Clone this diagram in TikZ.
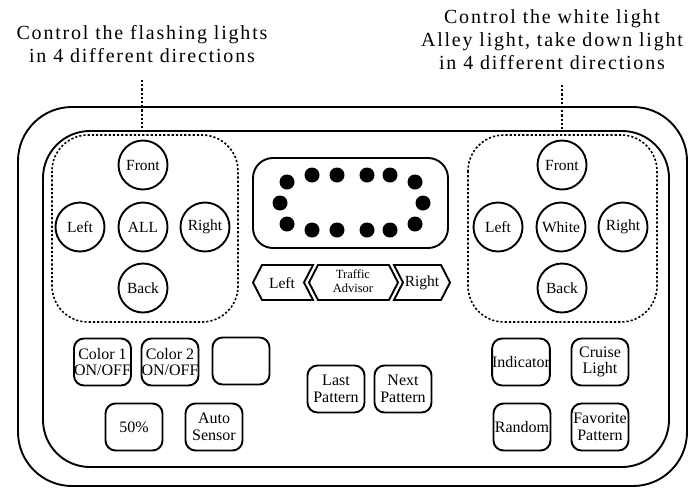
\documentclass[tikz,border=0pt]{standalone}
\usepackage{fontspec}
\setmainfont{Liberation Serif}
\newfontfamily\notefont[LetterSpace=9]{Liberation Serif}
\tikzset{
  frame/.style={line width=1.9pt},
  zone/.style={line width=1.6pt,dash pattern=on 2.2pt off 2pt,rounded corners=36pt},
  lead/.style={line width=1.6pt,dash pattern=on 2.2pt off 2pt},
  knob/.style={circle,draw,line width=1.9pt,minimum size=49pt,inner sep=0pt,font=\fontsize{15.5}{16}\selectfont},
  key/.style={draw,line width=1.9pt,rounded corners=10pt,minimum width=57pt,minimum height=47pt,inner sep=0pt,align=center,font=\fontsize{16}{16.5}\selectfont},
  chev/.style={line width=1.9pt,line join=miter},
  lamp/.style={fill=black},
  note/.style={align=center,inner sep=0pt,font=\notefont\fontsize{20}{23}\selectfont}
}
\begin{document}
\begin{tikzpicture}[x=1pt,y=-1pt]
\useasboundingbox (0,0) rectangle (693,491);
% captions
\node[note] (flashnote) at (142,44) {Control the flashing lights\\in 4 different directions};
\node[note] (whitenote) at (552,40) {Control the white light\\Alley light, take down light\\in 4 different directions};
\coordinate (flashtop) at (142,80);
\coordinate (flashtip) at (142,129);
\coordinate (whitetop) at (562,85);
\coordinate (whitetip) at (562,129);
\draw[lead] (flashtop) -- (flashtip);
\draw[lead] (whitetop) -- (whitetip);
% housing
\draw[frame,rounded corners=54pt] (18,107) rectangle (687,486);
\draw[frame,rounded corners=47pt] (43,131) rectangle (669,467);
% direction groups
\draw[zone] (52,135) rectangle (238,322);
\draw[zone] (468,135) rectangle (657,322);
\node[knob] (ffront) at (143,165) {Front};
\node[knob] (fleft) at (80,227) {Left};
\node[knob] (fall) at (143,227) {ALL};
\node[knob] (fright) at (205,227) {Right};
\node[knob] (fback) at (143,288) {Back};
\node[knob] (wfront) at (562,165) {Front};
\node[knob] (wleft) at (498,227) {Left};
\node[knob] (wwhite) at (561,227) {White};
\node[knob] (wright) at (623,227) {Right};
\node[knob] (wback) at (562,288) {Back};
% light bar
\draw[frame,rounded corners=20pt] (253,158) rectangle (448,248);
\foreach \p in {(287,182),(312,175),(337,175),(367,175),(390,175),(415,182),
  (280,203),(423,203),(287,224),(312,230),(337,230),(367,230),(390,230),(415,224)}
  \fill[lamp] \p circle (7.5);
% traffic advisor keys
\draw[chev] (253,282.5) -- (262,265) -- (313,265) -- (304,282.5) -- (313,300) -- (262,300) -- cycle;
\draw[chev] (309,282.5) -- (318,265) -- (389,265) -- (398,282.5) -- (389,300) -- (318,300) -- cycle;
\draw[chev] (394,265) -- (441,265) -- (450,282.5) -- (441,300) -- (394,300) -- (403,282.5) -- cycle;
\node[font=\fontsize{15.5}{16}\selectfont] (tleft) at (282,283) {Left};
\node[align=center,font=\fontsize{12.5}{13.5}\selectfont] (tboth) at (353,281) {Traffic\\Advisor};
\node[font=\fontsize{15.5}{16}\selectfont] (tright) at (422,283) {Right};
% keys
\node[key] (colorone) at (102.5,362) {Color 1\\ON/OFF};
\node[key] (colortwo) at (170,362) {Color 2\\ON/OFF};
\node[key] (blank) at (241,361) {};
\node[key] (half) at (134,427) {50\%};
\node[key] (autosens) at (214,427) {Auto\\Sensor};
\node[key] (lastpat) at (336,389) {Last\\Pattern};
\node[key] (nextpat) at (403,389) {Next\\Pattern};
\node[key] (indic) at (521,362) {Indicator};
\node[key] (cruise) at (600,362) {Cruise\\Light};
\node[key] (rand) at (522,427) {Random};
\node[key] (favpat) at (600,427) {Favorite\\Pattern};
\end{tikzpicture}
\end{document}
